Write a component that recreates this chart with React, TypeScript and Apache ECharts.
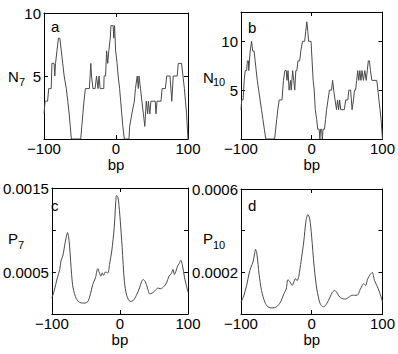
import React, { useEffect, useRef } from "react";
import * as echarts from "echarts";

// ---- data ----
const xTicks = [-100, 0, 100];

const panelA: [number, number][] = [
  [-100, 2], [-98.5, 3], [-95, 3], [-93.5, 4], [-90, 4], [-89, 6], [-86, 6], [-85, 5], [-84, 6], [-82, 7],
  [-80, 8], [-78, 8], [-76, 7], [-74, 6], [-72, 5], [-69, 4], [-67, 3], [-65, 2], [-63.5, 1], [-62, 0],
  [-49, 0], [-47.5, 1], [-46, 2], [-44.5, 3], [-42.5, 4], [-37, 4], [-35, 6], [-34, 5], [-32, 4], [-29, 4],
  [-27, 5], [-25, 4], [-23.5, 5], [-22, 4], [-17, 4], [-16.5, 5], [-14.5, 5], [-13, 7], [-11.5, 6], [-10, 7],
  [-8, 8], [-7, 9], [-4, 9], [-3, 8], [-2, 9], [-0.5, 7], [1.5, 6], [3, 5], [5, 4], [6.5, 3],
  [8, 2], [9.5, 1], [11.5, 0], [18, 0], [19, 1], [22, 2], [25.5, 3], [27, 4], [29.5, 5], [31, 4],
  [32, 5], [34, 4], [36, 3], [38, 2], [40, 1], [42, 3], [44, 2], [45, 3], [47, 2], [48.5, 3],
  [54.5, 3], [55.5, 2], [57, 3], [62.5, 3], [64, 4], [68.5, 4], [70.5, 5], [75, 5], [77.5, 3], [79.5, 5],
  [85, 5], [86.5, 6], [91, 6], [93, 5], [95, 4], [96.5, 3], [98, 2], [100, 0],
];

const panelB: [number, number][] = [
  [-100, 3], [-99, 4], [-97, 4], [-95.5, 6], [-94, 7], [-92, 7], [-91, 8], [-89.5, 8], [-89, 7], [-87, 9],
  [-85, 10], [-83.5, 9], [-81.5, 9], [-80, 8], [-78.5, 7], [-77, 6], [-75, 5], [-73, 4], [-71, 3], [-69, 2],
  [-67, 1], [-65, 0], [-52.5, 0], [-51, 1], [-49.5, 2], [-48, 3], [-46, 4], [-42, 4], [-40, 6], [-38, 7],
  [-36, 7], [-35, 6], [-33.5, 7], [-32, 5], [-30, 6], [-29, 5], [-27, 7], [-25.5, 6], [-24, 5], [-22.5, 7],
  [-21, 7], [-19.5, 8], [-17, 8], [-15.5, 9], [-13, 10], [-10, 10], [-8.5, 11], [-7, 12], [-5.5, 11], [-4.5, 10],
  [-1, 10], [0.5, 8], [2, 6], [3.5, 5], [5, 3], [7, 2], [8.5, 1], [10.5, 1], [11.5, 0], [12.5, 1],
  [14, 1], [15, 0], [16, 1], [18, 1], [19.5, 2], [21, 3], [23, 4], [25, 5], [28, 5], [29.5, 6],
  [31, 5], [33, 4], [35, 3], [36.5, 4], [38, 3], [39.5, 4], [41, 3], [46, 3], [48, 4], [51, 4],
  [52.5, 5], [55, 5], [57, 3], [59, 4], [60.5, 5], [62, 5], [63.5, 6], [65, 7], [66.5, 6], [68, 7],
  [69.5, 6], [71, 7], [73, 6], [75, 7], [77, 6], [78.5, 7], [80, 8], [81.5, 8], [83, 7], [85, 6],
  [92, 6], [93.5, 5], [95, 4], [96.5, 3], [98, 2], [100, 0],
];

const panelC: [number, number][] = [
  [-100, 0.00019], [-96.7, 0.000275], [-92, 0.00043], [-88.4, 0.00053], [-86.5, 0.00064], [-84, 0.00069],
  [-80.5, 0.00085], [-78, 0.00095], [-77, 0.00097], [-75.5, 0.00092], [-74, 0.00081], [-71, 0.00047],
  [-68.8, 0.00031], [-64, 0.00018], [-59.5, 0.00014], [-55, 0.00013], [-48, 0.00014], [-43.3, 0.00024],
  [-40, 0.00035], [-36, 0.00043], [-32.6, 0.00054], [-30.2, 0.00049], [-28, 0.00045], [-26, 0.00049],
  [-24, 0.00046], [-21.4, 0.0005], [-17.7, 0.00049], [-15.3, 0.00059], [-12, 0.00075], [-8.4, 0.00103],
  [-6, 0.00135], [-5, 0.00141], [-3, 0.00139], [-1.5, 0.0013], [0, 0.00116], [3.3, 0.00079],
  [6.5, 0.00039], [10, 0.00022], [15, 0.00015], [19.5, 0.00016], [24, 0.00022], [28.8, 0.00031],
  [32, 0.00039], [34, 0.00041], [37, 0.00039], [40.5, 0.00031], [43.7, 0.00024], [47.4, 0.00025],
  [52, 0.00028], [55.8, 0.00031], [59, 0.0003], [63.7, 0.00032], [68.4, 0.00037], [72, 0.00045],
  [75.3, 0.00048], [78, 0.00053], [80, 0.00047], [82.3, 0.00051], [84.6, 0.00057], [87, 0.0006],
  [89.3, 0.00064], [91.6, 0.00059], [95, 0.00043], [100, 0.00026],
];

const panelD: [number, number][] = [
  [-100, 0.000058], [-96.7, 0.000081], [-92, 0.000137], [-88.8, 0.000192], [-86, 0.000224], [-83, 0.00025],
  [-80.5, 0.000295], [-79.5, 0.00031], [-77.5, 0.000287], [-74.4, 0.00019], [-71, 0.000113], [-66.4, 0.000058],
  [-61.8, 0.000034], [-56.2, 0.000029], [-50, 0.000034], [-44, 0.000058], [-39.4, 0.000097], [-36, 0.00012],
  [-33.8, 0.000164], [-30.5, 0.000153], [-27.7, 0.000137], [-25.4, 0.000153], [-23, 0.00017], [-20.7, 0.00016],
  [-18.4, 0.00018], [-15, 0.000255], [-11.2, 0.00035], [-8.2, 0.000445], [-5.5, 0.000477], [-3, 0.00046],
  [-0.2, 0.000374], [3.5, 0.000224], [7.2, 0.00012], [11.9, 0.00005], [16.6, 0.000034], [21.2, 0.00005],
  [25.9, 0.000081], [29.2, 0.000105], [32.4, 0.000113], [35.2, 0.000105], [38.5, 0.000085], [43.1, 0.000074],
  [47.8, 0.000072], [52.4, 0.000081], [57.1, 0.00009], [64, 0.00009], [68.8, 0.00012], [73.4, 0.000145],
  [76.2, 0.000137], [79, 0.000168], [82.8, 0.00019], [85.5, 0.0002], [88.8, 0.00016], [92, 0.000137],
  [95.8, 0.000105], [100, 0.000058],
];

const yLabelTicksA = [5, 10];
const yLabelTicksB = [5, 10];
const yLabelTicksC = ["0.0005", "0.0015"];
const yLabelTicksD = ["0.0002", "0.0006"];

const FONT = '"Liberation Sans", Arial, Helvetica, sans-serif';
const INK = "#000";
const LINE = "#4a4a4a";

type PanelCfg = {
  grid: { left: number; top: number; width: number; height: number };
  yMin: number;
  yMax: number;
  yInterval: number;
  labelFilter: (v: number) => string;
};

export default function App() {
  const ref = useRef<HTMLDivElement>(null);

  useEffect(() => {
    document.body.style.margin = "0";
    if (!ref.current) return;
    const chart = echarts.init(ref.current, undefined, { renderer: "svg" });

    const fmtX = (v: number) => (v < 0 ? "\u2212" + Math.abs(v) : String(v));
    const pick = (list: number[]) => (v: number) =>
      list.some((t) => Math.abs(t - v) < 1e-9) ? String(v) : "";
    const pickStr = (list: string[]) => (v: number) => {
      const hit = list.find((s) => Math.abs(parseFloat(s) - v) < 1e-12);
      return hit || "";
    };

    const panels: PanelCfg[] = [
      { grid: { left: 44, top: 13, width: 144, height: 126 }, yMin: 0, yMax: 10, yInterval: 5, labelFilter: pick(yLabelTicksA) },
      { grid: { left: 241, top: 12, width: 143, height: 127 }, yMin: 0, yMax: 13, yInterval: 5, labelFilter: pick(yLabelTicksB) },
      { grid: { left: 44, top: 188, width: 144, height: 126 }, yMin: 0, yMax: 0.0015, yInterval: 0.0005, labelFilter: pickStr(yLabelTicksC) },
      { grid: { left: 241, top: 189, width: 143, height: 125 }, yMin: 0, yMax: 0.0006, yInterval: 0.0002, labelFilter: pickStr(yLabelTicksD) },
    ];
    const datasets = [panelA, panelB, panelC, panelD];

    const axisLine = { show: true, onZero: false, lineStyle: { color: INK, width: 1 } };
    const tick = { show: true, inside: true, length: 4, lineStyle: { color: INK, width: 1 } };
    const labelStyle = { color: INK, fontSize: 15, fontFamily: FONT };

    const xAxes: any[] = [];
    const yAxes: any[] = [];
    panels.forEach((p, i) => {
      xAxes.push({
        type: "value", gridIndex: i, position: "bottom", min: -100, max: 100, interval: 100,
        axisLine, axisTick: tick, splitLine: { show: false },
        axisLabel: { ...labelStyle, margin: 2, formatter: (v: number) => (xTicks.includes(v) ? fmtX(v) : "") },
        name: "bp", nameLocation: "middle", nameGap: 12,
        nameTextStyle: { ...labelStyle, verticalAlign: "top" },
      });
      yAxes.push({
        type: "value", gridIndex: i, position: "left", min: p.yMin, max: p.yMax, interval: p.yInterval,
        axisLine, axisTick: tick, splitLine: { show: false },
        axisLabel: { ...labelStyle, margin: 3, formatter: p.labelFilter },
      });
    });
    panels.forEach((p, i) => {
      xAxes.push({
        type: "value", gridIndex: i, position: "top", min: -100, max: 100, interval: 100,
        axisLine, axisTick: tick, axisLabel: { show: false }, splitLine: { show: false },
      });
      yAxes.push({
        type: "value", gridIndex: i, position: "right", min: p.yMin, max: p.yMax, interval: p.yInterval,
        axisLine, axisTick: tick, axisLabel: { show: false }, splitLine: { show: false },
      });
    });

    const series = datasets.map((d, i) => ({
      type: "line",
      xAxisIndex: i,
      yAxisIndex: i,
      data: d,
      showSymbol: false,
      smooth: i >= 2 ? 0.3 : false,
      clip: true,
      lineStyle: { color: LINE, width: 1 },
      silent: true,
    }));

    const txt = (text: string, x: number, y: number, size: number) => ({
      type: "text",
      x,
      y,
      silent: true,
      style: { text, fill: INK, font: `${size}px ${FONT}`, align: "left", verticalAlign: "middle" },
    });

    const graphic = [
      txt("a", 51, 26, 15),
      txt("b", 248, 27, 15),
      txt("c", 51, 205, 15),
      txt("d", 248, 205, 15),
      txt("N", 8, 76.5, 15),
      txt("7", 19, 82.2, 11),
      txt("N", 203, 77.8, 15),
      txt("10", 213, 82.2, 11),
      txt("P", 8, 238.8, 15),
      txt("7", 18, 245.2, 11),
      txt("P", 203, 238.8, 15),
      txt("10", 213, 245.2, 11),
    ];

    chart.setOption({
      animation: false,
      backgroundColor: "#fff",
      grid: panels.map((p) => ({ ...p.grid, containLabel: false })),
      xAxis: xAxes,
      yAxis: yAxes,
      series,
      graphic,
    });

    return () => chart.dispose();
  }, []);

  return <div ref={ref} style={{ width: 398, height: 354 }} />;
}
